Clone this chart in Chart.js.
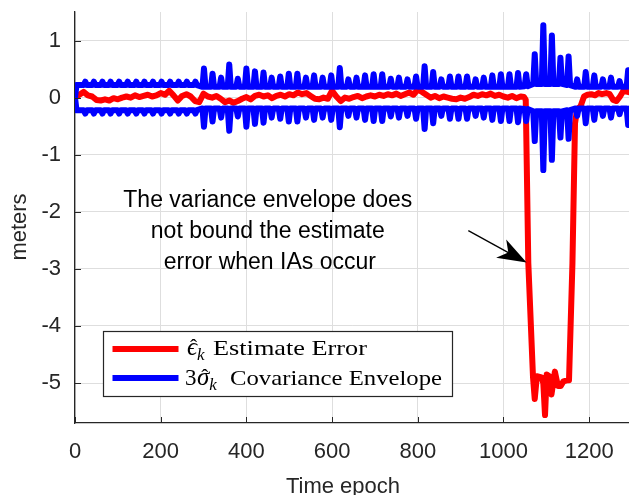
<!DOCTYPE html>
<html><head><meta charset="utf-8">
<script src="https://cdn.jsdelivr.net/npm/chart.js@4.4.1/dist/chart.umd.min.js"></script>
<style>html,body{margin:0;padding:0;background:#fff;overflow:hidden}canvas{display:block}</style>
</head><body>
<canvas id="c" width="629" height="495"></canvas>
<script>
// ---------- data ----------
const xTicks = [0, 200, 400, 600, 800, 1000, 1200];
const yTicks = [-5, -4, -3, -2, -1, 0, 1];

// estimate error (red)
const errEpochs = [0,10,20,30,40,50,60,70,80,90,100,110,120,130,140,150,160,170,180,190,
 200,210,220,230,240,250,260,270,280,290,300,310,320,330,340,350,360,370,380,390,
 400,410,420,430,440,450,460,470,480,490,500,510,520,530,540,550,560,570,580,590,
 600,610,620,630,640,650,660,670,680,690,700,710,720,730,740,750,760,770,780,790,
 800,810,820,830,840,850,860,870,880,890,900,910,920,930,940,950,960,970,980,990,
 1000,1010,1020,1030,1040,1048,1052,1058,1069,1073,1078,1089,1093,1097,1101,1107,1112,
 1120,1127,1134,1140,1150,1153,1161,1167,1172,1180,1188,1196,1205,1214,1222,1230,1240,
 1248,1256,1264,1272,1280,1290,1300];
const errValues = [0.0,0.05,0.1,0.04,0.02,-0.04,-0.05,-0.03,-0.05,-0.01,-0.03,0.0,0.02,0.0,0.04,0.01,0.03,0.05,0.02,0.04,
 0.08,0.05,0.12,0.04,-0.05,0.03,0.06,0.02,-0.06,-0.08,0.07,0.02,0.0,0.03,-0.02,-0.08,-0.05,-0.09,-0.06,-0.02,
 0.01,-0.03,0.03,0.05,0.02,0.04,-0.01,0.03,0.05,0.02,0.06,0.04,0.09,0.06,0.08,0.03,-0.02,-0.03,0.0,-0.02,
 0.12,0.02,-0.06,0.0,-0.02,0.01,0.03,-0.01,0.02,0.04,0.02,0.05,0.03,0.06,0.04,0.07,0.03,0.06,0.09,0.05,
 0.14,0.1,0.05,0.0,0.03,-0.01,0.02,0.0,-0.02,-0.03,0.0,-0.02,0.01,0.05,0.03,0.06,0.04,0.07,0.03,0.05,
 0.02,0.0,0.03,-0.01,0.02,0.01,-0.04,-2.9,-4.9,-5.28,-4.88,-4.9,-5.0,-5.56,-4.85,-4.88,-5.2,
 -4.8,-5.05,-5.05,-4.97,-4.95,-4.95,-2.9,-0.45,-0.2,-0.15,0.02,0.05,0.06,0.04,0.08,0.06,0.08,
 0.06,-0.04,-0.06,0.02,0.12,0.1,0.08];

// 3-sigma covariance envelope: epochs of the periodic peaks, peak value, base level around each peak
const envEpochs = [0,24,44,64,83,103,123,143,162,182,202,222,242,261,281,
 301,321,341,360,380,400,420,440,459,479,499,519,539,558,578,598,618,638,657,677,
 697,717,737,756,776,796,816,836,855,875,895,915,935,954,974,994,1014,1034,1053,1073,
 1093,1113,1133,1152,1172,1192,1212,1232,1251,1271,1291];
const envPeak = [0,0.28,0.28,0.28,0.28,0.28,0.28,0.28,0.28,0.28,0.28,0.28,0.28,0.28,0.28,
 0.51,0.42,0.35,0.58,0.33,0.51,0.46,0.44,0.35,0.37,0.42,0.42,0.35,0.39,0.35,0.39,0.52,0.32,0.35,0.39,
 0.41,0.41,0.33,0.35,0.32,0.37,0.55,0.45,0.32,0.37,0.37,0.37,0.32,0.35,0.39,0.41,0.41,0.43,0.41,0.76,
 1.27,1.09,0.70,0.72,0.32,0.45,0.39,0.32,0.35,0.29,0.48];
const envBase = [0.22,0.22,0.22,0.22,0.22,0.22,0.22,0.22,0.22,0.22,0.22,0.22,0.22,0.22,0.22,
 0.19,0.19,0.19,0.19,0.19,0.19,0.19,0.19,0.19,0.19,0.19,0.19,0.19,0.19,0.19,0.19,0.19,0.19,0.19,0.19,
 0.19,0.19,0.19,0.19,0.19,0.19,0.19,0.19,0.19,0.19,0.19,0.19,0.19,0.19,0.19,0.19,0.19,0.19,0.20,0.24,
 0.24,0.24,0.24,0.22,0.19,0.19,0.19,0.19,0.19,0.19,0.19];

const legendLabels = ['Estimate Error', 'Covariance Envelope'];
const annotationLines = ['The variance envelope does', 'not bound the estimate', 'error when IAs occur'];
const xTitle = 'Time epoch';
const yTitle = 'meters';

// ---------- build datasets ----------
const red = errEpochs.map((t, i) => ({x: t, y: errValues[i]}));
const SPIKE_HALF = 3.5; // half width (epochs) of each envelope peak
const upper = [], lower = [];
envEpochs.forEach((t, i) => {
  [[t - SPIKE_HALF, envBase[i]], [t, envPeak[i]], [t + SPIKE_HALF, envBase[i]]].forEach(([x, v]) => {
    upper.push({x, y: v});
    lower.push({x, y: -v});
  });
});

const AX = '#262626';
const SANS = '"Liberation Sans", Arial, Helvetica, sans-serif';
const SERIF = '"Liberation Serif", "Times New Roman", serif';

function stretchText(ctx, txt, x, y, targetW) {
  const w = ctx.measureText(txt).width;
  ctx.save(); ctx.translate(x, y); ctx.scale(targetW / w, 1);
  ctx.fillText(txt, 0, 0); ctx.restore();
}
function hatSym(ctx, sym, sub, x, y, fs) {
  ctx.font = 'italic ' + fs + 'px ' + SERIF;
  ctx.textAlign = 'left';
  ctx.fillText(sym, x, y);
  const w = ctx.measureText(sym).width;
  ctx.font = (fs * 0.85) + 'px ' + SERIF;
  ctx.textAlign = 'center';
  ctx.fillText('\u02C6', x + w / 2 + 1.5, y - fs * 0.06);
  ctx.textAlign = 'left';
  ctx.font = 'italic ' + (fs * 0.68) + 'px ' + SERIF;
  ctx.fillText(sub, x + w, y + fs * 0.2);
  return x + w + ctx.measureText(sub).width;
}

const overlay = {
  id: 'overlay',
  afterDraw(chart) {
    const ctx = chart.ctx, xs = chart.scales.x, ys = chart.scales.y, a = chart.chartArea;
    ctx.save();
    // inward tick marks
    ctx.strokeStyle = AX; ctx.lineWidth = 1;
    xTicks.forEach(v => { const px = Math.round(xs.getPixelForValue(v)) + 0.5;
      ctx.beginPath(); ctx.moveTo(px, a.bottom); ctx.lineTo(px, a.bottom - 6); ctx.stroke(); });
    yTicks.forEach(v => { const py = Math.round(ys.getPixelForValue(v)) + 0.5;
      ctx.beginPath(); ctx.moveTo(a.left, py); ctx.lineTo(a.left + 6, py); ctx.stroke(); });

    // axis titles
    ctx.fillStyle = AX; ctx.font = '22px ' + SANS;
    ctx.textAlign = 'center'; ctx.textBaseline = 'alphabetic';
    ctx.fillText(xTitle, 343, 493);
    ctx.save(); ctx.translate(26, 227); ctx.rotate(-Math.PI / 2);
    ctx.fillText(yTitle, 0, 0); ctx.restore();

    // annotation text (anchored in data units)
    ctx.fillStyle = '#000'; ctx.font = '23px ' + SANS; ctx.textAlign = 'center';
    const ax = xs.getPixelForValue(450), ay = ys.getPixelForValue(-1.92);
    annotationLines.forEach((s, i) => ctx.fillText(s, ax + (i === 2 ? 2 : 0), ay + i * 31));

    // arrow
    const tx = xs.getPixelForValue(918), ty = ys.getPixelForValue(-2.33);
    const hx = xs.getPixelForValue(1054), hy = ys.getPixelForValue(-2.89);
    const dx = hx - tx, dy = hy - ty, L = Math.hypot(dx, dy), ux = dx / L, uy = dy / L, nx = -uy, ny = ux;
    const HL = 29, HW = 10.5;
    ctx.strokeStyle = '#000'; ctx.lineWidth = 1.3;
    ctx.beginPath(); ctx.moveTo(tx, ty); ctx.lineTo(hx - ux * HL * 0.7, hy - uy * HL * 0.7); ctx.stroke();
    ctx.fillStyle = '#000'; ctx.beginPath();
    ctx.moveTo(hx, hy);
    ctx.lineTo(hx - ux * HL + nx * HW, hy - uy * HL + ny * HW);
    ctx.lineTo(hx - ux * HL * 0.72, hy - uy * HL * 0.72);
    ctx.lineTo(hx - ux * HL - nx * HW, hy - uy * HL - ny * HW);
    ctx.closePath(); ctx.fill();

    // legend
    const lx = a.left + 28.5, ly = 331.5, lw = 349, lh = 65;
    ctx.fillStyle = '#fff'; ctx.fillRect(lx, ly, lw, lh);
    ctx.strokeStyle = AX; ctx.lineWidth = 1.2; ctx.strokeRect(lx, ly, lw, lh);
    const rows = [{c: '#ff0000', y: 349}, {c: '#0000ff', y: 378}];
    rows.forEach(r => { ctx.strokeStyle = r.c; ctx.lineWidth = 6; ctx.lineCap = 'butt';
      ctx.beginPath(); ctx.moveTo(lx + 9, r.y); ctx.lineTo(lx + 75, r.y); ctx.stroke(); });
    ctx.fillStyle = '#000'; ctx.textAlign = 'left'; ctx.textBaseline = 'alphabetic';
    hatSym(ctx, '\u03F5', 'k', 187, 355, 25);
    ctx.font = '22px ' + SERIF;
    stretchText(ctx, legendLabels[0], 213, 355, 154);
    ctx.font = '23px ' + SERIF; ctx.fillText('3', 185, 385);
    hatSym(ctx, '\u03C3', 'k', 197, 385, 25);
    ctx.font = '22px ' + SERIF;
    stretchText(ctx, legendLabels[1], 230, 385, 212);
    ctx.restore();
  }
};

new Chart(document.getElementById('c').getContext('2d'), {
  type: 'line',
  data: { datasets: [
    {label: 'err', data: red, borderColor: '#ff0000', borderWidth: 6, order: 3},
    {label: 'env+', data: upper, borderColor: '#0000ff', borderWidth: 6, order: 1},
    {label: 'env-', data: lower, borderColor: '#0000ff', borderWidth: 6, order: 1}
  ]},
  options: {
    responsive: false, animation: false, devicePixelRatio: 1,
    elements: { point: {radius: 0}, line: {tension: 0, borderJoinStyle: 'round', borderCapStyle: 'round', fill: false} },
    layout: { padding: {top: 12, left: 0, right: 0, bottom: 0} },
    plugins: { legend: {display: false}, tooltip: {enabled: false} },
    scales: {
      x: { type: 'linear', min: 0, max: 1293,
        afterBuildTicks: s => { s.ticks = xTicks.map(v => ({value: v})); },
        afterFit: s => { s.height = 72; s.paddingLeft = 0; s.paddingRight = 0; },
        grid: { color: '#dedede', lineWidth: 1, drawTicks: false },
        border: { color: AX, width: 1.3 },
        ticks: { padding: 16, color: AX, font: {family: SANS, size: 22}, maxRotation: 0, autoSkip: false,
          callback: v => String(v) } },
      y: { type: 'linear', min: -5.7, max: 1.5,
        afterBuildTicks: s => { s.ticks = yTicks.map(v => ({value: v})); },
        afterFit: s => { s.width = 75; s.paddingTop = 0; s.paddingBottom = 0; },
        grid: { color: '#dedede', lineWidth: 1, drawTicks: false },
        border: { color: AX, width: 1.3 },
        ticks: { padding: 14, color: AX, font: {family: SANS, size: 22}, autoSkip: false,
          callback: v => String(v) } }
    }
  },
  plugins: [overlay]
});
</script>
</body></html>
